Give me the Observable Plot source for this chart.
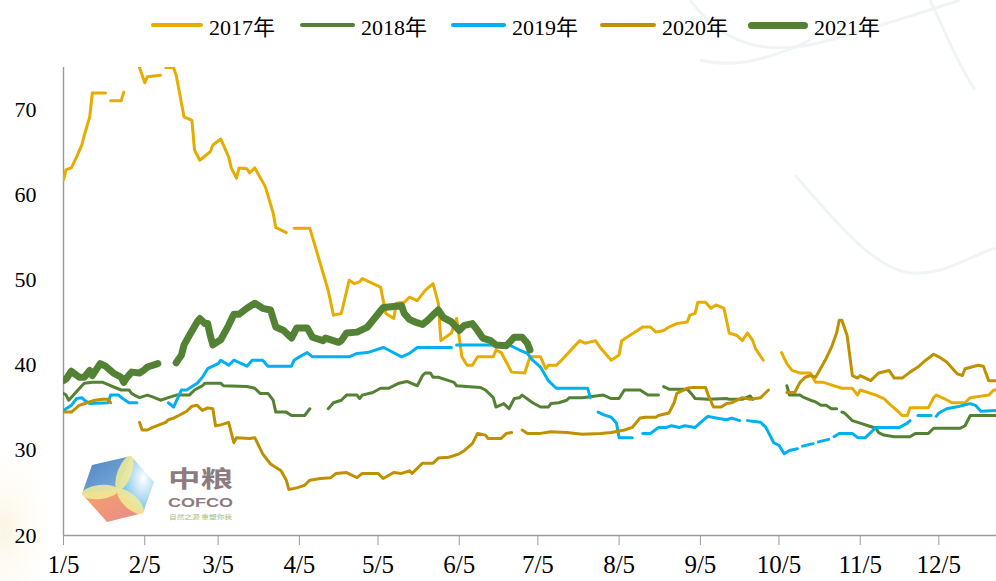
<!DOCTYPE html>
<html><head><meta charset="utf-8">
<script src="https://cdn.jsdelivr.net/npm/d3@7"></script>
<script src="https://cdn.jsdelivr.net/npm/@observablehq/plot@0.6"></script>
<style>
html,body{margin:0;padding:0;background:#fff;}
#wrap{position:relative;width:996px;height:581px;overflow:hidden;font-family:'Liberation Serif','Noto Sans CJK SC',serif;}
#bg{position:absolute;left:0;top:0;}
#legend{position:absolute;left:0;top:0;width:996px;height:45px;}
.item{position:absolute;top:11px;height:28px;display:flex;align-items:center;font-size:22px;color:#000;white-space:nowrap;}
.sw{height:4px;border-radius:2px;margin-right:6px;}
#chart{position:absolute;left:0;top:45px;}
</style></head>
<body><div id="wrap"><svg id="bg" width="996" height="581"></svg><div id="legend"></div><div id="chart"></div></div>
<script>
const seriesNames = ["2017年","2018年","2019年","2020年","2021年"];
const seriesColors = ["#E6AC00","#548235","#00B0F0","#BF9000","#548235"];
const yTicks = [20,30,40,50,60,70];
const xTicks = ["01-05","02-05","03-05","04-05","05-05","06-05","07-05","08-05","09-05","10-05","11-05","12-05"];
const xTickLabels = ["1/5","2/5","3/5","4/5","5/5","6/5","7/5","8/5","9/5","10/5","11/5","12/5"];

const s2017 = [["01-05",61.8],["01-06",63.0],["01-08",63.2],["01-10",64.5],["01-12",65.9],["01-13",67.1],["01-15",69.2],["01-16",72.0],["01-21",72.0],["01-22",null],["01-23",71.1],["01-27",71.1],["01-28",72.1],["01-30",null],["02-03",75],["02-05",73.2],["02-06",73.9],["02-11",74.1],["02-12",null],["02-13",75],["02-16",75],["02-17",74.1],["02-20",69.2],["02-23",68.8],["02-24",65.3],["02-26",64.1],["03-02",65.1],["03-03",65.9],["03-06",66.6],["03-09",64.5],["03-10",63.2],["03-12",62.0],["03-13",63.2],["03-16",63.1],["03-17",62.6],["03-19",63.2],["03-23",61.0],["03-26",57.9],["03-27",56.2],["03-31",55.6],["04-01",null],["04-03",56.1],["04-09",56.1],["04-16",48.8],["04-18",45.9],["04-21",46.1],["04-24",50.0],["04-26",49.6],["04-28",49.8],["04-29",50.2],["05-06",49.2],["05-07",47.6],["05-08",46.1],["05-11",45.5],["05-12",47.3],["05-15",47.4],["05-17",48.0],["05-20",47.6],["05-23",48.8],["05-26",49.6],["05-28",47.3],["05-29",42.9],["06-02",43.8],["06-04",45.5],["06-06",41.0],["06-08",40.0],["06-10",40.0],["06-12",41.0],["06-18",41.0],["06-19",41.8],["06-21",41.5],["06-25",39.2],["06-30",39.1],["07-02",41.0],["07-06",41.0],["07-08",39.6],["07-09",40.0],["07-12",40.0],["07-14",40.6],["07-21",42.9],["07-23",42.6],["07-27",42.9],["07-29",42.0],["08-02",40.6],["08-05",41.2],["08-06",42.9],["08-08",43.3],["08-12",44.1],["08-14",44.5],["08-17",44.5],["08-19",43.9],["08-22",44.1],["08-24",44.5],["08-27",44.9],["08-31",45.1],["09-01",45.9],["09-03",46.1],["09-04",47.4],["09-07",47.4],["09-09",46.7],["09-11",47.1],["09-14",46.7],["09-15",45.3],["09-16",43.8],["09-19",43.5],["09-21",42.9],["09-23",43.8],["09-25",42.9],["09-26",42.0],["09-29",40.6],["10-02",null],["10-06",41.5],["10-08",40.2],["10-10",39.4],["10-12",39.2],["10-13",39.1],["10-17",39.1],["10-19",38.0],["10-22",38.0],["10-27",37.5],["10-29",37.3],["11-02",37.3],["11-04",36.5],["11-05",37.1],["11-11",36.5],["11-14",36.1],["11-16",35.5],["11-19",34.7],["11-21",34.1],["11-23",34.1],["11-24",35.0],["12-01",35.0],["12-03",36.2],["12-04",36.5],["12-07",36.1],["12-10",35.6],["12-15",35.6],["12-17",36.2],["12-24",36.5],["12-26",37.1],["12-27",37.1]];

const s2018 = [["01-05",36.7],["01-06",36.5],["01-07",35.9],["01-12",37.6],["01-13",37.9],["01-16",38.0],["01-20",38.0],["01-23",37.6],["01-27",37.1],["01-30",37.1],["01-31",36.7],["02-01",36.5],["02-03",36.2],["02-06",36.5],["02-08",36.3],["02-11",35.9],["02-14",36.2],["02-17",36.5],["02-22",36.5],["02-24",37.1],["02-27",37.6],["02-28",37.9],["03-06",37.9],["03-07",37.6],["03-16",37.5],["03-19",37.3],["03-21",36.7],["03-24",36.7],["03-26",35.9],["03-27",34.5],["03-31",34.5],["04-02",34.1],["04-07",34.1],["04-09",34.9],["04-11",null],["04-16",34.9],["04-18",35.6],["04-21",35.9],["04-23",36.5],["04-27",36.5],["04-28",36.1],["04-29",36.5],["05-03",36.8],["05-06",37.3],["05-09",37.3],["05-13",37.9],["05-16",38.1],["05-20",37.6],["05-22",38.8],["05-23",39.1],["05-25",39.1],["05-26",38.6],["05-28",38.6],["06-01",38.2],["06-03",38.0],["06-04",37.6],["06-13",37.4],["06-15",37.1],["06-18",36.2],["06-19",35.1],["06-22",35.5],["06-24",34.9],["06-26",36.1],["06-28",36.2],["06-29",36.5],["07-03",35.6],["07-06",35.1],["07-09",35.1],["07-10",35.5],["07-13",35.6],["07-16",35.9],["07-17",36.2],["07-22",36.2],["07-30",36.5],["08-02",36.1],["08-05",36.1],["08-07",37.1],["08-13",37.1],["08-16",36.5],["08-20",36.5],["08-21",null],["08-22",37.5],["08-24",37.2],["08-31",37.2],["09-02",36.5],["09-03",36.1],["09-08",36.0],["09-15",36.1],["09-16",36.0],["09-21",36.0],["09-24",36.4],["09-25",36.0],["09-30",null],["10-08",37.6],["10-09",36.5],["10-13",36.5],["10-14",36.3],["10-17",35.9],["10-19",35.7],["10-21",35.3],["10-23",35.3],["10-25",34.9],["10-27",34.9],["10-28",null],["10-29",34.5],["10-30",34.4],["11-02",33.5],["11-05",33.2],["11-08",32.9],["11-11",32.6],["11-12",32.1],["11-14",31.8],["11-18",31.6],["11-24",31.6],["11-26",32.0],["12-01",32.0],["12-03",32.6],["12-13",32.6],["12-15",32.9],["12-17",34.1],["12-27",34.1]];

const s2019 = [["01-05",34.7],["01-08",35.3],["01-10",36.1],["01-12",36.2],["01-13",35.9],["01-15",35.5],["01-22",35.6],["01-23",36.5],["01-26",36.5],["01-28",36.0],["01-30",35.6],["02-02",35.6],["02-05",null],["02-14",35.6],["02-16",35.1],["02-19",37.1],["02-21",37.1],["02-22",37.3],["02-25",37.9],["02-27",38.6],["03-01",39.6],["03-05",40.2],["03-06",40.6],["03-08",40.2],["03-09",40.0],["03-11",40.6],["03-16",39.9],["03-18",40.6],["03-22",40.6],["03-24",39.9],["04-02",39.9],["04-03",40.6],["04-05",41.0],["04-08",41.5],["04-10",41.0],["04-24",41.0],["04-27",41.4],["05-01",41.5],["05-07",42.1],["05-09",41.8],["05-14",41.0],["05-17",41.4],["05-20",42.1],["06-02",42.1],["06-03",null],["06-04",42.4],["06-24",42.4],["06-28",41.8],["07-01",41.4],["07-03",40.6],["07-06",39.8],["07-09",38.2],["07-12",37.3],["07-24",37.3],["07-25",36.2],["07-27",null],["07-28",34.5],["07-30",34.2],["08-02",33.9],["08-04",33.2],["08-05",31.5],["08-10",31.5],["08-12",null],["08-14",32.0],["08-17",32.0],["08-20",32.7],["08-23",32.7],["08-25",32.9],["08-28",32.7],["08-30",32.9],["09-03",32.7],["09-07",33.8],["09-08",34.0],["09-11",33.8],["09-15",33.6],["09-17",33.8],["09-20",33.5],["09-22",null],["09-23",33.5],["09-28",33.3],["09-30",32.7],["10-03",30.9],["10-05",30.6],["10-07",29.6],["10-09",30.0],["10-12",30.2],["10-13",null],["10-14",30.5],["10-18",30.8],["10-19",null],["10-20",31.0],["10-24",31.3],["10-25",null],["10-26",31.6],["10-28",32.0],["11-02",32.0],["11-04",31.5],["11-07",31.5],["11-09",32.1],["11-11",32.7],["11-20",32.7],["11-23",33.2],["11-24",33.5],["11-26",null],["11-27",34.1],["12-02",34.1],["12-03",null],["12-04",34.0],["12-05",34.4],["12-08",34.9],["12-13",35.2],["12-17",35.5],["12-19",35.3],["12-21",34.6],["12-27",34.7]];

const s2020 = [["01-05",34.5],["01-08",34.5],["01-11",35.3],["01-14",35.6],["01-17",35.9],["01-20",36.0],["01-22",36.0],["01-23",35.6],["01-25",null],["02-03",33.3],["02-04",32.4],["02-06",32.4],["02-08",32.7],["02-13",33.3],["02-14",33.6],["02-16",33.8],["02-18",34.1],["02-21",34.6],["02-23",35.2],["02-25",35.3],["02-27",34.7],["03-01",35.0],["03-03",34.9],["03-04",32.9],["03-06",33.0],["03-09",33.3],["03-11",30.9],["03-12",31.5],["03-17",31.4],["03-19",31.5],["03-22",29.6],["03-25",28.4],["03-29",27.6],["03-31",26.5],["04-01",25.4],["04-04",25.6],["04-07",25.9],["04-09",26.5],["04-13",26.7],["04-17",26.8],["04-19",27.3],["04-23",27.4],["04-27",26.8],["04-29",27.3],["05-05",27.3],["05-07",26.7],["05-11",27.4],["05-14",27.3],["05-17",27.6],["05-18",27.3],["05-22",28.5],["05-26",28.5],["05-28",29.1],["06-01",29.2],["06-05",29.6],["06-07",30.0],["06-10",30.8],["06-12",32.0],["06-15",31.8],["06-16",31.4],["06-21",31.4],["06-23",32.0],["06-25",32.1],["06-27",null],["06-29",32.4],["07-01",32.0],["07-06",32.0],["07-10",32.2],["07-16",32.1],["07-22",31.9],["07-29",32.0],["08-02",32.1],["08-07",32.4],["08-10",32.7],["08-13",33.8],["08-15",33.9],["08-19",33.9],["08-20",34.1],["08-24",34.4],["08-26",35.6],["08-27",36.7],["08-31",37.3],["09-02",37.4],["09-07",37.4],["09-08",36.5],["09-10",35.1],["09-13",35.1],["09-15",35.5],["09-17",35.6],["09-21",36.2],["09-24",36.0],["09-28",36.2],["09-30",36.8],["10-01",37.1],["10-04",null],["10-08",36.8],["10-11",36.8],["10-13",38.0],["10-15",38.6],["10-17",38.8],["10-19",38.6],["10-23",40.8],["10-25",42.1],["10-27",43.8],["10-28",45.3],["10-29",45.3],["10-31",43.5],["11-02",38.8],["11-04",38.5],["11-05",38.8],["11-07",38.5],["11-09",38.2],["11-12",39.1],["11-16",39.4],["11-18",38.5],["11-21",38.5],["11-24",39.2],["11-27",39.8],["11-30",40.6],["12-03",41.3],["12-05",41.0],["12-08",40.4],["12-12",39.0],["12-14",38.8],["12-15",39.6],["12-20",40.0],["12-22",39.9],["12-24",38.2],["12-27",38.2]];

const s2021 = [["01-05",38.2],["01-06",38.4],["01-08",39.3],["01-11",38.6],["01-13",38.6],["01-15",39.4],["01-16",38.8],["01-19",40.2],["01-21",39.9],["01-24",39.1],["01-27",38.6],["01-28",38.0],["01-29",38.5],["01-31",39.2],["02-03",39.1],["02-05",39.5],["02-06",39.8],["02-10",40.2],["02-13",null],["02-17",40.3],["02-19",41.2],["02-20",42.4],["02-22",43.5],["02-25",45.1],["02-26",45.5],["02-28",44.9],["03-01",44.9],["03-02",43.5],["03-03",42.4],["03-06",43.0],["03-09",44.7],["03-11",46.0],["03-13",46.0],["03-16",46.7],["03-19",47.3],["03-22",46.7],["03-25",46.5],["03-27",44.5],["03-30",44.1],["03-31",43.8],["04-02",43.2],["04-04",44.4],["04-08",44.4],["04-10",43.3],["04-14",42.9],["04-15",43.2],["04-20",42.7],["04-21",42.9],["04-23",43.8],["04-27",43.9],["05-01",44.5],["05-07",46.8],["05-14",47.0],["05-15",46.1],["05-17",45.4],["05-19",45.1],["05-22",44.8],["05-24",45.3],["05-26",45.9],["05-28",46.5],["05-30",45.6],["06-02",45.1],["06-05",44.1],["06-07",44.7],["06-10",44.9],["06-12",44.1],["06-14",43.2],["06-17",42.9],["06-19",42.4],["06-23",42.3],["06-26",43.3],["06-29",43.3],["07-01",42.6],["07-02",41.8]];

const seriesData = [s2017, s2018, s2019, s2020, s2021];
const widths = [3, 3, 3, 3, 7];

const toDate = s => new Date(Date.UTC(2021, +s.slice(0,2) - 1, +s.slice(3,5)));
const labelMap = new Map(xTicks.map((t, i) => [+toDate(t), xTickLabels[i]]));

// background decoration
const bg = d3.select("#bg");
const defs = bg.append("defs");
const glow = defs.append("radialGradient").attr("id","glow");
glow.append("stop").attr("offset","0%").attr("stop-color","#faf5e2");
glow.append("stop").attr("offset","100%").attr("stop-color","#ffffff").attr("stop-opacity",0);
bg.append("ellipse").attr("cx",5).attr("cy",530).attr("rx",55).attr("ry",100).attr("fill","url(#glow)");
["M690,0 C720,40 760,60 830,40 S930,10 960,0","M795,175 C830,215 870,265 905,272 S970,255 996,248","M930,0 C945,30 955,60 975,90","M700,60 C740,70 780,55 810,40"].forEach(p =>
  bg.append("path").attr("d", p).attr("fill","none").attr("stroke","#f0f5f3").attr("stroke-width",3));
// logo
const lg = bg.append("g");
const c = [118, 490];
const hv = [[92,465],[131,456],[154,482],[143,513],[107,522],[82,494]];
const g1 = defs.append("linearGradient").attr("id","gb").attr("x1","0").attr("y1","0").attr("x2","1").attr("y2","1");
g1.append("stop").attr("offset","0").attr("stop-color","#4f7fc0");
g1.append("stop").attr("offset","1").attr("stop-color","#7fb6e0");
const g2 = defs.append("radialGradient").attr("id","gl").attr("cx","0.7").attr("cy","0.4").attr("r","0.7");
g2.append("stop").attr("offset","0").attr("stop-color","#ffffff");
g2.append("stop").attr("offset","1").attr("stop-color","#5fb5e6");
const g3 = defs.append("linearGradient").attr("id","go").attr("x1","0").attr("y1","0").attr("x2","1").attr("y2","1");
g3.append("stop").attr("offset","0").attr("stop-color","#f3a36a");
g3.append("stop").attr("offset","1").attr("stop-color","#e98a8a");
const poly = pts => pts.map(p => p.join(",")).join(" ");
lg.append("polygon").attr("points", poly([hv[5],hv[0],hv[1],c])).attr("fill","url(#gb)");
lg.append("polygon").attr("points", poly([hv[1],hv[2],hv[3],c])).attr("fill","url(#gl)");
lg.append("polygon").attr("points", poly([hv[3],hv[4],hv[5],c])).attr("fill","url(#go)");
[hv[1], hv[5], hv[3]].forEach(v => {
  const mx = (c[0] + v[0]) / 2, my = (c[1] + v[1]) / 2;
  const ang = Math.atan2(v[1] - c[1], v[0] - c[0]) * 180 / Math.PI;
  const len = Math.hypot(v[0] - c[0], v[1] - c[1]);
  lg.append("ellipse").attr("cx", mx).attr("cy", my).attr("rx", len / 2).attr("ry", 7)
    .attr("transform", `rotate(${ang},${mx},${my})`).attr("fill", "#f3ec95").attr("opacity", 0.85);
});
bg.append("text").attr("x",168).attr("y",487).attr("font-family","'Noto Sans CJK SC'").attr("font-weight",700).attr("font-size",23)
  .attr("textLength",65).attr("lengthAdjust","spacingAndGlyphs").attr("fill","#8c7c80").text("中粮");
bg.append("text").attr("x",168).attr("y",507).attr("font-family","'Liberation Sans'").attr("font-weight",700).attr("font-size",13)
  .attr("textLength",65).attr("lengthAdjust","spacingAndGlyphs").attr("fill","#8c7c80").text("COFCO");
bg.append("text").attr("x",169).attr("y",519).attr("font-family","'Noto Sans CJK SC'").attr("font-size",6)
  .attr("textLength",63).attr("lengthAdjust","spacingAndGlyphs").attr("fill","#9dbf7f").text("自然之源 重塑你我");

// legend
const legendPos = [[151,52],[300,55],[451,55],[600,56],[748,60]];
const legend = d3.select("#legend");
seriesNames.forEach((n, i) => {
  const it = legend.append("div").attr("class","item").style("left", legendPos[i][0] + "px");
  it.append("div").attr("class","sw").style("width", legendPos[i][1] + "px").style("background", seriesColors[i])
    .style("height", (i === 4 ? 7 : 4) + "px").style("border-radius", (i === 4 ? 4 : 2) + "px");
  it.append("span").text(n);
});

const chart = Plot.plot({
  width: 996, height: 536,
  marginTop: 22, marginRight: 0, marginBottom: 46, marginLeft: 63,
  style: {background: "transparent", fontFamily: "'Liberation Serif', serif", fontSize: "21px", color: "#000", overflow: "visible"},
  x: {type: "utc", domain: [toDate("01-05"), toDate("12-27")]},
  y: {domain: [20, 75]},
  marks: [
    Plot.axisY({ticks: yTicks, tickSize: 0, tickPadding: 27, tickFormat: d => String(d)}),
    Plot.axisX({ticks: xTicks.map(toDate), tickSize: 10, tickPadding: 10, stroke: "#9a9a9a", tickFormat: d => labelMap.get(+d)}),
    Plot.ruleX([toDate("01-05")], {stroke: "#9a9a9a", strokeWidth: 1.4}),
    Plot.ruleY([20], {stroke: "#9a9a9a", strokeWidth: 1.4}),
    ...seriesData.map((s, i) => Plot.line(s, {
      x: d => toDate(d[0]), y: d => d[1],
      stroke: seriesColors[i], strokeWidth: widths[i],
      strokeLinejoin: "round", strokeLinecap: "round", clip: true
    }))
  ]
});
d3.select(chart).selectAll("text").each(function() {
  const t = d3.select(this);
  const isX = /\/5$/.test(t.text());
  t.style("font-family", "'Liberation Serif', serif")
   .style("font-size", isX ? "25px" : "22px")
   .style("fill", "#000");
});
document.getElementById("chart").appendChild(chart);
</script></body></html>
